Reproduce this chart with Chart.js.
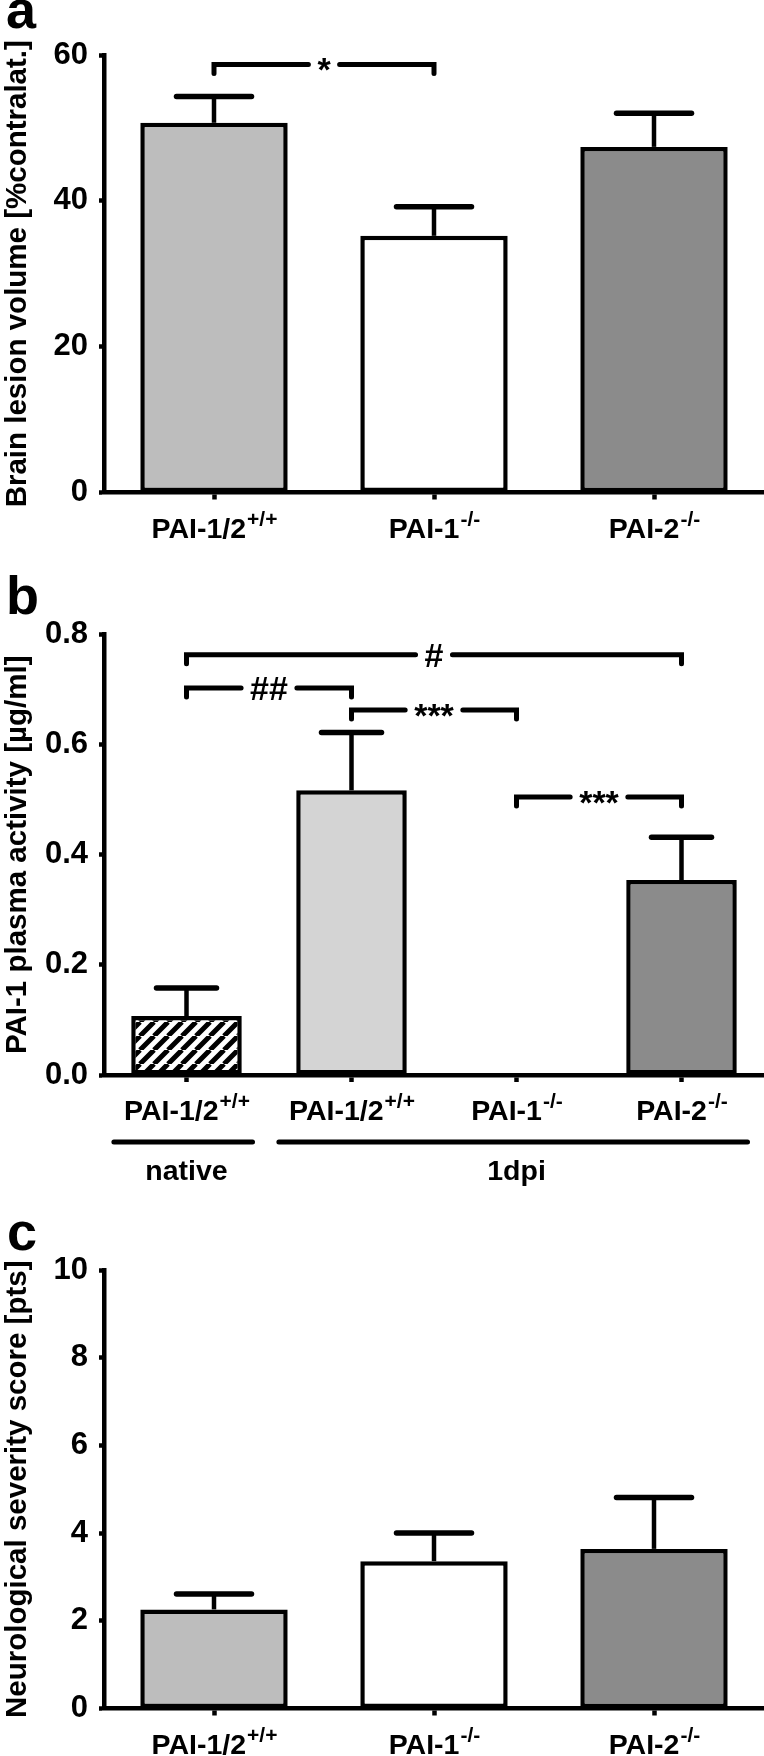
<!DOCTYPE html>
<html><head><meta charset="utf-8">
<script src="https://cdn.jsdelivr.net/npm/chart.js@4.4.1/dist/chart.umd.min.js"></script>
<style>
html,body{margin:0;padding:0;background:#fff;}
body{width:764px;height:1756px;position:relative;overflow:hidden;}
canvas{position:absolute;left:0;}
</style></head><body>
<canvas id="ca" width="764" height="560" style="top:0px"></canvas>
<canvas id="cb" width="764" height="640" style="top:560px"></canvas>
<canvas id="cc" width="764" height="556" style="top:1200px"></canvas>
<script>
// ---------- DATA ----------
// Panel a: brain lesion volume
const lesionLabels = ['PAI-1/2', 'PAI-1', 'PAI-2'];
const lesionSup = ['+/+', '-/-', '-/-'];
const lesionMean = [50.7, 35.2, 47.4];
const lesionSem = [3.6, 4.0, 4.6];
const lesionTicks = [0, 20, 40, 60];
const lesionSig = [[0, 1, 58.7, '*']];

// Panel b: PAI-1 plasma activity
const plasmaLabels = ['PAI-1/2', 'PAI-1/2', 'PAI-1', 'PAI-2'];
const plasmaSup = ['+/+', '+/+', '-/-', '-/-'];
const plasmaMean = [0.107, 0.517, 0, 0.354];
const plasmaSem = [0.051, 0.105, null, 0.078];
const plasmaTicks = [0, 0.2, 0.4, 0.6, 0.8];
const plasmaSig = [[0, 3, 0.763, '#'], [0, 1, 0.703, '##'], [1, 2, 0.663, '***'], [2, 3, 0.505, '***']];
const plasmaGroups = [['native', 0, 0], ['1dpi', 1, 3]];

// Panel c: neurological severity score
const nssLabels = ['PAI-1/2', 'PAI-1', 'PAI-2'];
const nssSup = ['+/+', '-/-', '-/-'];
const nssMean = [2.26, 3.36, 3.64];
const nssSem = [0.35, 0.64, 1.17];
const nssTicks = [0, 2, 4, 6, 8, 10];

// ---------- STYLE ----------
const FONT = '"Liberation Sans", Arial, Helvetica, sans-serif';
Chart.defaults.font.family = FONT;
Chart.defaults.color = '#000';

function hatchPattern(ctx) {
  const s = 14;
  const c = document.createElement('canvas');
  c.width = s; c.height = s;
  const g = c.getContext('2d');
  g.fillStyle = '#fff'; g.fillRect(0, 0, s, s);
  g.strokeStyle = '#000'; g.lineWidth = 5;
  g.beginPath();
  for (let k = -1; k <= 1; k++) { g.moveTo(k * s, s); g.lineTo(k * s + s, 0); }
  g.stroke();
  return ctx.createPattern(c, 'repeat');
}

function decorPlugin(o) {
  return {
    id: 'decor',
    afterDatasetsDraw(chart) {
      const ctx = chart.ctx, xs = chart.scales.x, ys = chart.scales.y;
      const meta = chart.getDatasetMeta(0);
      ctx.save();
      ctx.strokeStyle = '#000'; ctx.fillStyle = '#000';
      // error bars (upper)
      o.mean.forEach((m, i) => {
        if (o.sem[i] == null || !m) return;
        const x = meta.data[i].x;
        const yb = ys.getPixelForValue(m);
        const yt = ys.getPixelForValue(m + o.sem[i]);
        ctx.lineCap = 'butt'; ctx.lineWidth = 4.5;
        ctx.beginPath(); ctx.moveTo(x, yb); ctx.lineTo(x, yt); ctx.stroke();
        ctx.lineCap = 'round'; ctx.lineWidth = 5.5;
        ctx.beginPath(); ctx.moveTo(x - o.cap / 2, yt); ctx.lineTo(x + o.cap / 2, yt); ctx.stroke();
      });
      // significance brackets
      (o.sig || []).forEach(([i0, i1, v, txt]) => {
        const x0 = xs.getPixelForValue(i0), x1 = xs.getPixelForValue(i1);
        const y = ys.getPixelForValue(v);
        ctx.font = 'bold 34px ' + FONT;
        const tw = ctx.measureText(txt).width;
        const mid = (x0 + x1) / 2, gap = tw / 2 + 9;
        ctx.lineWidth = 5; ctx.lineCap = 'round'; ctx.lineJoin = 'miter';
        ctx.beginPath();
        ctx.moveTo(x0, y + 9); ctx.lineTo(x0, y); ctx.lineTo(mid - gap, y);
        ctx.moveTo(mid + gap, y); ctx.lineTo(x1, y); ctx.lineTo(x1, y + 9);
        ctx.stroke();
        ctx.textAlign = 'center'; ctx.textBaseline = 'alphabetic';
        ctx.fillText(txt, mid, y + (txt.indexOf('*') >= 0 ? 17 : 12));
      });
      ctx.restore();
    },
    afterDraw(chart) {
      const ctx = chart.ctx, xs = chart.scales.x, area = chart.chartArea;
      ctx.save();
      ctx.fillStyle = '#000'; ctx.strokeStyle = '#000';
      ctx.textBaseline = 'alphabetic'; ctx.textAlign = 'left';
      // category labels with superscripts
      o.labels.forEach((lab, i) => {
        const px = xs.getPixelForValue(i);
        ctx.font = 'bold 28.5px ' + FONT;
        const w1 = ctx.measureText(lab).width;
        ctx.font = 'bold 21px ' + FONT;
        const w2 = ctx.measureText(o.sup[i]).width;
        const x0 = px - (w1 + w2) / 2;
        const yb = area.bottom + 45;
        ctx.font = 'bold 28.5px ' + FONT;
        ctx.fillText(lab, x0, yb);
        ctx.font = 'bold 21px ' + FONT;
        ctx.fillText(o.sup[i], x0 + w1 + 1, yb - 12);
      });
      // group lines
      if (o.groups) {
        const w = xs.getPixelForValue(1) - xs.getPixelForValue(0);
        o.groups.forEach(([name, i0, i1]) => {
          const xa = xs.getPixelForValue(i0) - 0.44 * w;
          const xb = xs.getPixelForValue(i1) + 0.40 * w;
          const y = area.bottom + 67;
          ctx.lineWidth = 5; ctx.lineCap = 'round';
          ctx.beginPath(); ctx.moveTo(xa, y); ctx.lineTo(xb, y); ctx.stroke();
          ctx.font = 'bold 28.5px ' + FONT; ctx.textAlign = 'center';
          ctx.fillText(name, (xs.getPixelForValue(i0) + xs.getPixelForValue(i1)) / 2, area.bottom + 105);
          ctx.textAlign = 'left';
        });
      }
      // panel letter
      ctx.font = 'bold 54px ' + FONT;
      ctx.fillText(o.letter, o.letterX, o.letterY);
      ctx.restore();
    }
  };
}

function makePanel(id, o) {
  const el = document.getElementById(id);
  const ctx = el.getContext('2d');
  const H = el.height;
  const colors = o.colors.map(c => c === 'hatch' ? hatchPattern(ctx) : c);
  new Chart(ctx, {
    type: 'bar',
    data: {
      labels: o.labels.map((l, i) => l + o.sup[i]),
      datasets: [{
        data: o.mean,
        backgroundColor: colors,
        borderColor: '#000',
        borderWidth: 4.5,
        borderSkipped: false,
        categoryPercentage: 1,
        barPercentage: 0.67
      }]
    },
    options: {
      responsive: false, animation: false, devicePixelRatio: 1,
      layout: { padding: { top: o.top, left: 0, right: 0, bottom: 0 } },
      plugins: { legend: { display: false }, tooltip: { enabled: false } },
      scales: {
        x: {
          offset: true,
          grid: { display: true, offset: false, drawOnChartArea: false, drawTicks: true, tickLength: 7, tickWidth: 4.5, tickColor: '#000' },
          border: { display: true, color: '#000', width: 4.5 },
          ticks: { display: false },
          afterFit: s => { s.height = H - o.bottom; }
        },
        y: {
          min: o.ticks[0], max: o.ticks[o.ticks.length - 1],
          afterBuildTicks: s => { s.ticks = o.ticks.map(v => ({ value: v })); },
          ticks: {
            font: { size: 31, weight: 'bold' }, color: '#000', padding: 11,
            callback: v => o.fmt(v)
          },
          grid: { display: true, drawOnChartArea: false, drawTicks: true, tickLength: 5, tickWidth: 4.5, tickColor: '#000' },
          border: { display: true, color: '#000', width: 4.5 },
          title: { display: true, text: o.title, color: '#000', font: { size: 29.5, weight: 'bold', lineHeight: 1.2 }, padding: { top: 0, bottom: 0 } },
          afterFit: s => { s.width = 104; }
        }
      }
    },
    plugins: [decorPlugin(o)]
  });
}

makePanel('ca', {
  labels: lesionLabels, sup: lesionSup, mean: lesionMean, sem: lesionSem, ticks: lesionTicks,
  sig: lesionSig, fmt: v => String(v), title: 'Brain lesion volume [%contralat.]',
  colors: ['#bdbdbd', '#ffffff', '#8b8b8b'], cap: 75,
  top: 55, bottom: 492.5, letter: 'a', letterX: 6, letterY: 28
});
makePanel('cb', {
  labels: plasmaLabels, sup: plasmaSup, mean: plasmaMean, sem: plasmaSem, ticks: plasmaTicks,
  sig: plasmaSig, groups: plasmaGroups, fmt: v => v.toFixed(1), title: 'PAI-1 plasma activity [µg/ml]',
  colors: ['hatch', '#d4d4d4', '#ffffff', '#8b8b8b'], cap: 60,
  top: 74.5, bottom: 515, letter: 'b', letterX: 6, letterY: 54
});
makePanel('cc', {
  labels: nssLabels, sup: nssSup, mean: nssMean, sem: nssSem, ticks: nssTicks,
  fmt: v => String(v), title: 'Neurological severity score [pts]',
  colors: ['#bdbdbd', '#ffffff', '#8b8b8b'], cap: 75,
  top: 70, bottom: 508.5, letter: 'c', letterX: 7, letterY: 50
});
</script>
</body></html>
